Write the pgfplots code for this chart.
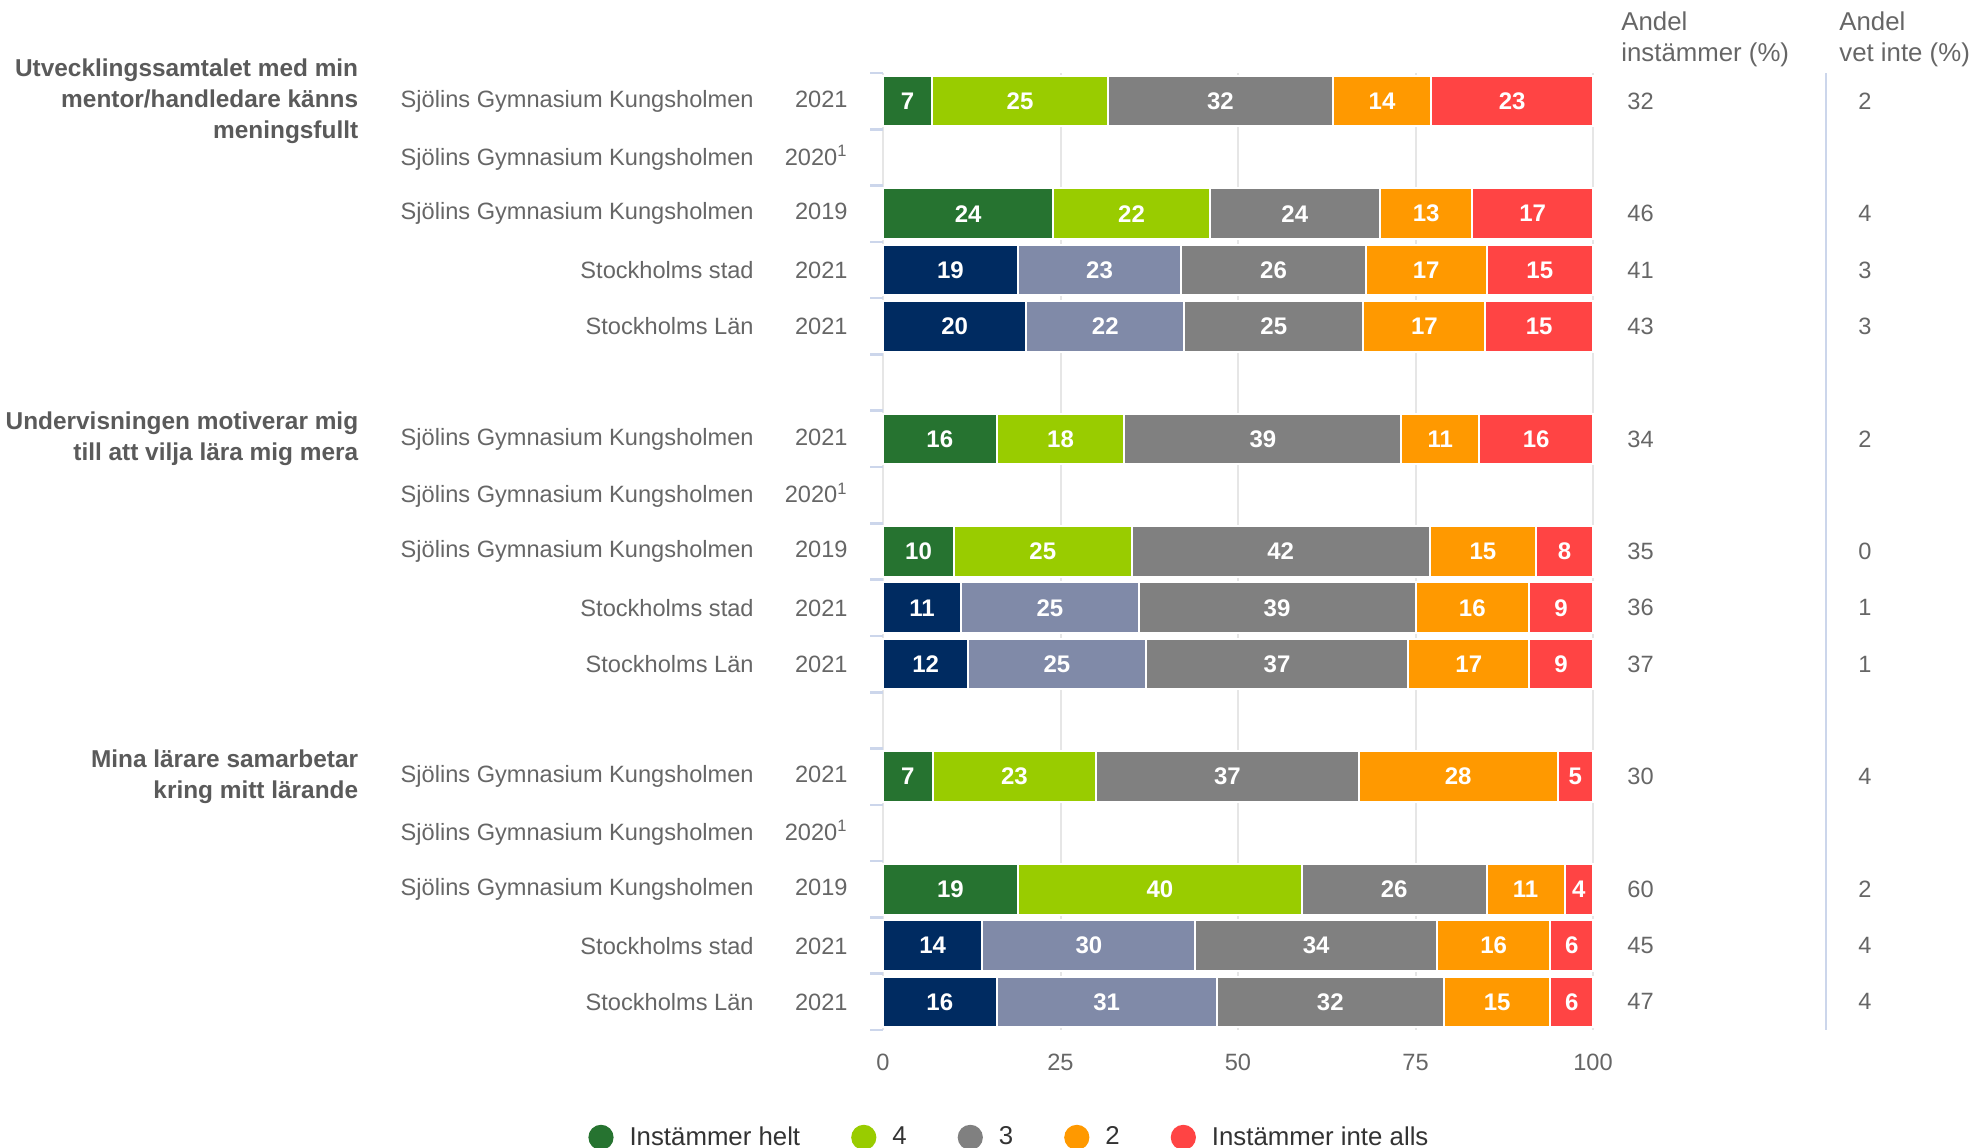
\documentclass[border=0pt]{standalone}
\usepackage{fontspec}
\setmainfont{Liberation Sans}
\usepackage{pgfplots}
\pgfplotsset{compat=1.18}
\usepackage{pgfplotstable}

\definecolor{cDG}{RGB}{38,115,48}
\definecolor{cLG}{RGB}{153,204,0}
\definecolor{cGR}{RGB}{128,128,128}
\definecolor{cOR}{RGB}{255,153,0}
\definecolor{cRD}{RGB}{255,68,68}
\definecolor{cNV}{RGB}{0,43,97}
\definecolor{cBG}{RGB}{128,138,168}
\definecolor{cTX}{RGB}{90,90,90}
\definecolor{cLG2}{RGB}{51,51,51}
\definecolor{cLB}{RGB}{102,102,102}
\definecolor{cAX}{RGB}{204,214,235}
\definecolor{cGD}{RGB}{230,230,230}

% school rows: segment widths (normalised to 100)
\pgfplotstableread{
y a b c d e
0 6.93 24.75 31.68 13.86 22.77
2 24 22 24 13 17
6 16 18 39 11 16
8 10 25 42 15 8
12 7 23 37 28 5
14 19 40 26 11 4
}\schooltab

% comparison rows (Stockholms stad / Län)
\pgfplotstableread{
y a b c d e
3 19 23 26 17 15
4 20.20 22.22 25.25 17.17 15.15
9 11 25 39 16 9
10 12 25 37 17 9
15 14 30 34 16 6
16 16 31 32 15 6
}\comptab

% printed values at the centre of each segment
\pgfplotstableread{
x y l
3.465 0 7
19.305 0 25
47.52 0 32
70.29 0 14
88.605 0 23
12 2 24
35 2 22
58 2 24
76.5 2 13
91.5 2 17
9.5 3 19
30.5 3 23
55 3 26
76.5 3 17
92.5 3 15
10.1 4 20
31.31 4 22
55.045 4 25
76.255 4 17
92.415 4 15
8 6 16
25 6 18
53.5 6 39
78.5 6 11
92 6 16
5 8 10
22.5 8 25
56 8 42
84.5 8 15
96 8 8
5.5 9 11
23.5 9 25
55.5 9 39
83 9 16
95.5 9 9
6 10 12
24.5 10 25
55.5 10 37
82.5 10 17
95.5 10 9
3.5 12 7
18.5 12 23
48.5 12 37
81 12 28
97.5 12 5
9.5 14 19
39 14 40
72 14 26
90.5 14 11
98 14 4
7 15 14
29 15 30
61 15 34
86 15 16
97 15 6
8 16 16
31.5 16 31
63 16 32
86.5 16 15
97 16 6
}\labeltab

\newcommand{\fs}{\fontsize{11.8bp}{14bp}\selectfont}
\newcommand{\yr}[1]{\makebox[47bp][r]{#1}}

\tikzset{
  gtitle/.style={font=\fontsize{12.2bp}{15.5bp}\selectfont\bfseries, text=cTX, align=right, anchor=east, inner sep=0pt},
  rcol/.style={font=\fontsize{11.8bp}{15.8bp}\selectfont, text=cLB, anchor=west, inner sep=0pt, align=left},
  rhead/.style={font=\fontsize{12.9bp}{15.8bp}\selectfont, text=cLB, anchor=west, inner sep=0pt, align=left},
}

\pgfplotsset{
  base/.style={
    at={(441.5bp,59bp)}, anchor=south west,
    width=355bp, height=478.5bp, scale only axis,
    xmin=0, xmax=100, ymin=-0.5, ymax=16.5, y dir=reverse,
    clip=false,
  },
  barax/.style={
    base, xbar stacked, bar width=25.3bp,
    every axis plot/.append style={draw=white, line width=1bp},
  }
}

\begin{document}
\begin{tikzpicture}
\useasboundingbox (0,0) rectangle (993.5bp,574bp);
\begin{axis}[barax,
  axis line style={draw=none},
  xtick={0,25,50,75,100},
  xmajorgrids, grid style={cGD, line width=1bp},
  major tick length=0pt,
  xtick pos=bottom, ytick pos=left,
  tick align=outside,
  minor ytick={-0.5,0.5,...,16.5},
  minor tick length=6.3bp,
  every minor tick/.style={cAX, line width=1.3bp},
  /pgf/number format/assume math mode=true,
  xticklabel style={font=\fs, text=cLB, yshift=-8.5bp},
  ytick={0,1,2,3,4,6,7,8,9,10,12,13,14,15,16},
  yticklabels={
    {Sjölins Gymnasium Kungsholmen\yr{2021}},
    {Sjölins Gymnasium Kungsholmen\yr{2020\textsuperscript{1}}},
    {Sjölins Gymnasium Kungsholmen\yr{2019}},
    {Stockholms stad\yr{2021}},
    {Stockholms Län\yr{2021}},
    {Sjölins Gymnasium Kungsholmen\yr{2021}},
    {Sjölins Gymnasium Kungsholmen\yr{2020\textsuperscript{1}}},
    {Sjölins Gymnasium Kungsholmen\yr{2019}},
    {Stockholms stad\yr{2021}},
    {Stockholms Län\yr{2021}},
    {Sjölins Gymnasium Kungsholmen\yr{2021}},
    {Sjölins Gymnasium Kungsholmen\yr{2020\textsuperscript{1}}},
    {Sjölins Gymnasium Kungsholmen\yr{2019}},
    {Stockholms stad\yr{2021}},
    {Stockholms Län\yr{2021}}},
  yticklabel style={font=\fs, text=cLB, inner sep=0pt, anchor=east, xshift=-17.5bp},
  legend columns=5,
  legend style={draw=none, fill=none, inner sep=0pt, font=\fontsize{12.9bp}{15bp}\selectfont, text=cLG2,
    at={(axis description cs:-0.4155,-0.1122)}, anchor=west,
    /tikz/every odd column/.append style={column sep=6bp},
    /tikz/every even column/.append style={column sep=23.5bp}},
  legend cell align=left,
  legend image code/.code={\fill[#1, draw=none] (6.3bp,0bp) circle (6.3bp);},
]
\addplot[fill=cDG] table[x=a, y=y]{\schooltab}; \addlegendentry{Instämmer helt}
\addplot[fill=cLG] table[x=b, y=y]{\schooltab}; \addlegendentry{4}
\addplot[fill=cGR] table[x=c, y=y]{\schooltab}; \addlegendentry{3}
\addplot[fill=cOR] table[x=d, y=y]{\schooltab}; \addlegendentry{2}
\addplot[fill=cRD] table[x=e, y=y]{\schooltab}; \addlegendentry{Instämmer inte alls}

% group titles
\node[gtitle] at ([xshift=-262.2bp]axis cs:0,0) {Utvecklingssamtalet med min\\mentor/handledare känns\\meningsfullt};
\node[gtitle] at ([xshift=-262.2bp]axis cs:0,6) {Undervisningen motiverar mig\\till att vilja lära mig mera};
\node[gtitle] at ([xshift=-262.2bp]axis cs:0,12) {Mina lärare samarbetar\\kring mitt lärande};

% right-hand columns
\draw[cAX, line width=1bp] (axis cs:132.82,-0.5) -- (axis cs:132.82,16.5);
\node[rhead] at ([xshift=369bp]axis cs:0,-1.1) {Andel\\instämmer (\%)};
\node[rhead] at ([xshift=478bp]axis cs:0,-1.1) {Andel\\vet inte (\%)};
\node[rcol] at (axis cs:104.79,0) {32};  \node[rcol] at (axis cs:137.32,0) {2};
\node[rcol] at (axis cs:104.79,2) {46};  \node[rcol] at (axis cs:137.32,2) {4};
\node[rcol] at (axis cs:104.79,3) {41};  \node[rcol] at (axis cs:137.32,3) {3};
\node[rcol] at (axis cs:104.79,4) {43};  \node[rcol] at (axis cs:137.32,4) {3};
\node[rcol] at (axis cs:104.79,6) {34};  \node[rcol] at (axis cs:137.32,6) {2};
\node[rcol] at (axis cs:104.79,8) {35};  \node[rcol] at (axis cs:137.32,8) {0};
\node[rcol] at (axis cs:104.79,9) {36};  \node[rcol] at (axis cs:137.32,9) {1};
\node[rcol] at (axis cs:104.79,10) {37}; \node[rcol] at (axis cs:137.32,10) {1};
\node[rcol] at (axis cs:104.79,12) {30}; \node[rcol] at (axis cs:137.32,12) {4};
\node[rcol] at (axis cs:104.79,14) {60}; \node[rcol] at (axis cs:137.32,14) {2};
\node[rcol] at (axis cs:104.79,15) {45}; \node[rcol] at (axis cs:137.32,15) {4};
\node[rcol] at (axis cs:104.79,16) {47}; \node[rcol] at (axis cs:137.32,16) {4};
\end{axis}

\begin{axis}[barax, hide axis]
\addplot[fill=cNV] table[x=a, y=y]{\comptab};
\addplot[fill=cBG] table[x=b, y=y]{\comptab};
\addplot[fill=cGR] table[x=c, y=y]{\comptab};
\addplot[fill=cOR] table[x=d, y=y]{\comptab};
\addplot[fill=cRD] table[x=e, y=y]{\comptab};
\end{axis}

\begin{axis}[base, hide axis]
\addplot[draw=none, mark=none, nodes near coords, point meta=explicit symbolic,
  every node near coord/.style={anchor=center, inner sep=0pt, text=white,
    font=\fontsize{12bp}{14bp}\selectfont\bfseries}]
  table[x=x, y=y, meta=l]{\labeltab};
\end{axis}
\end{tikzpicture}
\end{document}
